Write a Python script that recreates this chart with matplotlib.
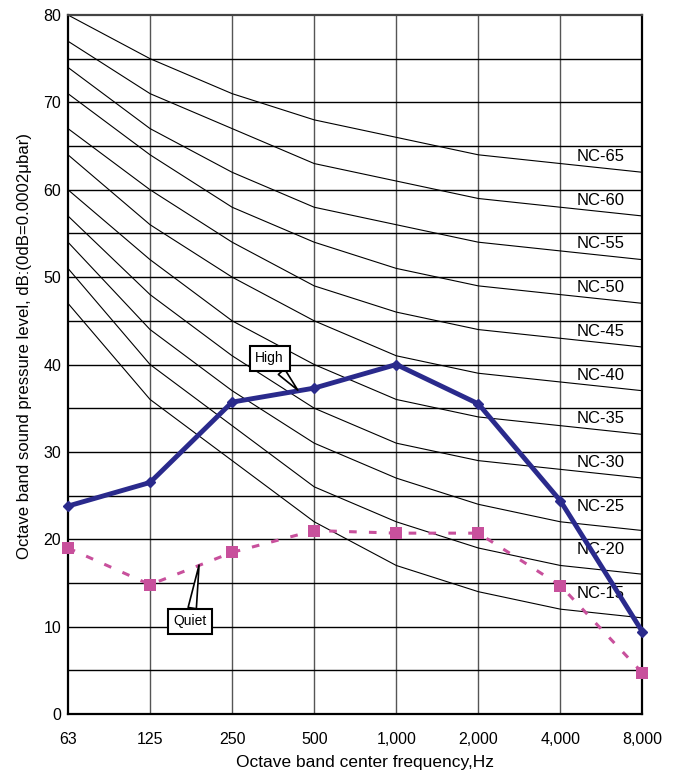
import matplotlib
matplotlib.use("Agg")
import matplotlib.pyplot as plt
import numpy as np

plt.rcParams['font.family'] = ['Liberation Sans', 'DejaVu Sans']

freq_labels = ["63", "125", "250", "500", "1,000", "2,000", "4,000", "8,000"]

nc_names = ["NC-65", "NC-60", "NC-55", "NC-50", "NC-45", "NC-40",
            "NC-35", "NC-30", "NC-25", "NC-20", "NC-15"]
nc_levels = [65, 60, 55, 50, 45, 40, 35, 30, 25, 20, 15]
nc65 = [80, 75, 71, 68, 66, 64, 63, 62]
nc60 = [77, 71, 67, 63, 61, 59, 58, 57]
nc55 = [74, 67, 62, 58, 56, 54, 53, 52]
nc50 = [71, 64, 58, 54, 51, 49, 48, 47]
nc45 = [67, 60, 54, 49, 46, 44, 43, 42]
nc40 = [64, 56, 50, 45, 41, 39, 38, 37]
nc35 = [60, 52, 45, 40, 36, 34, 33, 32]
nc30 = [57, 48, 41, 35, 31, 29, 28, 27]
nc25 = [54, 44, 37, 31, 27, 24, 22, 21]
nc20 = [51, 40, 33, 26, 22, 19, 17, 16]
nc15 = [47, 36, 29, 22, 17, 14, 12, 11]
nc_curves = [nc65, nc60, nc55, nc50, nc45, nc40, nc35, nc30, nc25, nc20, nc15]

high = [23.8, 26.5, 35.7, 37.3, 40.0, 35.5, 24.4, 9.4]
quiet = [19.0, 14.8, 18.5, 21.0, 20.7, 20.7, 14.7, 4.7]

fig = plt.figure(figsize=(6.78, 7.74), dpi=100)
ax = fig.add_axes([0.1003, 0.0775, 0.8473, 0.9031])
x = np.arange(len(freq_labels))

ax.set_xlim(0, len(freq_labels) - 1)
ax.set_ylim(0, 80)
ax.set_xticks(x)
ax.set_xticklabels(freq_labels)
ax.set_yticks(np.arange(0, 81, 10))
ax.tick_params(axis='both', which='both', length=0, labelsize=11.5)
ax.tick_params(axis='x', pad=13)
ax.tick_params(axis='y', pad=5)

for xv in x[1:-1]:
    ax.axvline(xv, color='#555555', lw=1.0, zorder=1)
for yv in np.arange(5, 80, 5):
    ax.axhline(yv, color='black', lw=1.0, zorder=1)

for name, lvl, curve in zip(nc_names, nc_levels, nc_curves):
    ax.plot(x, curve, color='black', lw=0.8, zorder=2)
    ax.text(6.2, lvl - 1.2, name, fontsize=12, ha='left', va='center', zorder=3)

ax.plot(x, quiet, color='#c8509c', lw=2.2, ls=(0, (2.5, 4)), marker='s',
        markersize=8.5, markeredgewidth=0, zorder=4, clip_on=False)
ax.plot(x, high, color='#2a2a8c', lw=3.5, marker='D', markersize=5.5,
        zorder=5, clip_on=False)

ax.annotate("High", xy=(2.80, 37.07), xytext=(2.457, 40.7), fontsize=10,
            ha='center', va='center', zorder=6,
            bbox=dict(boxstyle='square,pad=0.4', fc='white', ec='black', lw=1.5),
            arrowprops=dict(arrowstyle='wedge,tail_width=0.6', fc='white', ec='black', lw=1.2,
                            shrinkA=0, shrinkB=0))
ax.annotate("Quiet", xy=(1.597, 17.05), xytext=(1.488, 10.6), fontsize=10,
            ha='center', va='center', zorder=6,
            bbox=dict(boxstyle='square,pad=0.4', fc='white', ec='black', lw=1.5),
            arrowprops=dict(arrowstyle='wedge,tail_width=0.6', fc='white', ec='black', lw=1.2,
                            shrinkA=0, shrinkB=0))

for s in ax.spines.values():
    s.set_linewidth(1.6)
ax.spines['top'].set_color('#444444')

ax.set_xlabel("Octave band center frequency,Hz", fontsize=12.5, labelpad=6, x=0.517)
ax.set_ylabel("Octave band sound pressure level, dB:(0dB=0.0002μbar)", fontsize=12.1,
              labelpad=8, y=0.526)

fig.savefig("out.png", dpi=100)
